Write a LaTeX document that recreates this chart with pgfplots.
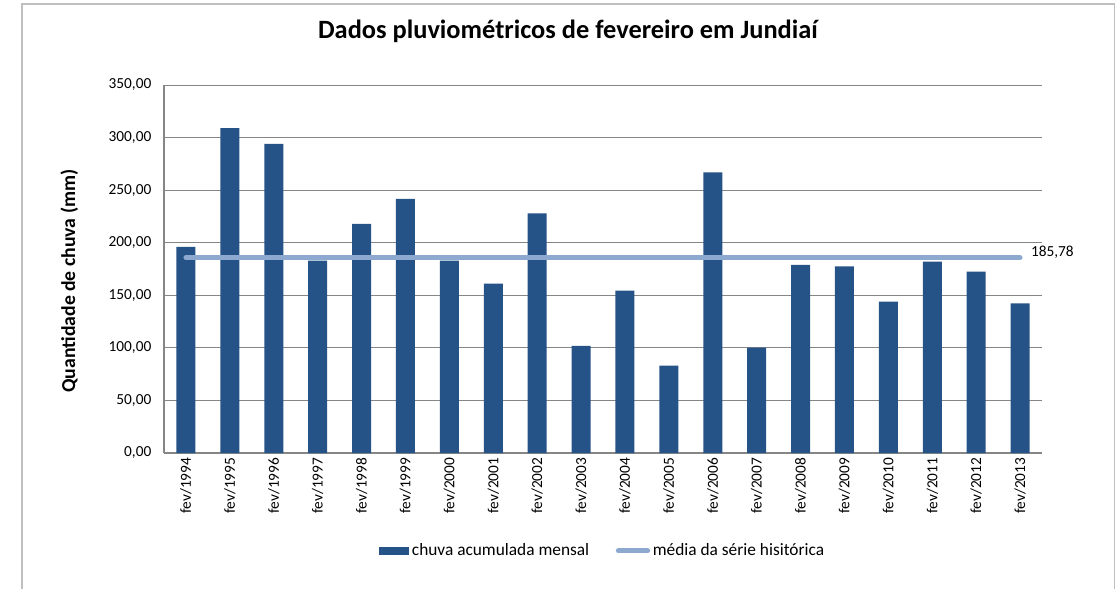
\documentclass[border=0pt]{standalone}
\usepackage{pgfplots}
\pgfplotsset{compat=1.18}
\usepackage{fontspec}
\setmainfont{Carlito}
\definecolor{barblue}{RGB}{38,83,135}
\definecolor{meanblue}{RGB}{142,169,208}
\definecolor{gridgray}{RGB}{134,134,134}
\begin{document}
\begin{tikzpicture}[x=0.75pt,y=0.75pt]
\path[use as bounding box] (0,0) rectangle (1116,589);
\draw[gray!50, line width=0.9pt] (22,0) -- (22,585) -- (1114.5,585) -- (1114.5,0);
\node[font=\bfseries\fontsize{19.8}{24}\selectfont] at (568,558) {Dados pluviométricos de fevereiro em Jundiaí};
\begin{axis}[
  at={(123pt,102pt)}, anchor=south west,
  scale only axis, width=658.5pt, height=276pt,
  xmin=-0.5, xmax=19.5, ymin=0, ymax=350,
  ytick distance=50,
  ymajorgrids, grid style={gridgray, line width=0.6pt},
  axis x line*=bottom, axis y line*=left,
  axis line style={gridgray, line width=0.8pt},
  major tick length=0pt,
  xtick={0,...,19},
  xticklabels={fev/1994,fev/1995,fev/1996,fev/1997,fev/1998,fev/1999,fev/2000,fev/2001,fev/2002,fev/2003,fev/2004,fev/2005,fev/2006,fev/2007,fev/2008,fev/2009,fev/2010,fev/2011,fev/2012,fev/2013},
  x tick label style={rotate=90, anchor=east, font=\fontsize{11.5}{13}\selectfont},
  y tick label style={font=\fontsize{11.5}{13}\selectfont, xshift=-6pt},
  /pgf/number format/.cd, use comma, fixed, fixed zerofill, precision=2, 1000 sep={}, assume math mode=true,
  /pgfplots/.cd,
  ylabel={Quantidade de chuva (mm)},
  ylabel style={at={(axis description cs:-0.108,0.467)}, anchor=center, font=\bfseries\fontsize{14.8}{17}\selectfont},
  legend style={at={(0.5,-0.266)}, anchor=center, draw=none, legend columns=2,
    font=\fontsize{13}{15}\selectfont,
    /tikz/every even column/.append style={column sep=18pt}},
  clip=false,
]
\addplot[draw=none, fill=barblue, ybar, bar width=14.25pt,
  legend image code/.code={\fill[barblue] (0pt,-3pt) rectangle (22.5pt,3pt);}]
coordinates {
(0,196) (1,309) (2,294) (3,183) (4,218) (5,241.6) (6,183) (7,161) (8,228) (9,102)
(10,154.5) (11,83) (12,267) (13,100.3) (14,179) (15,177.4) (16,144) (17,182) (18,172.6) (19,142.2)
};
\addlegendentry{chuva acumulada mensal}
\addplot[meanblue, line width=3.75pt, line cap=round, sharp plot,
  legend image code/.code={\draw[meanblue, line width=3.75pt, line cap=round] (0pt,0pt) -- (22pt,0pt);}]
coordinates {(0,185.78) (19,185.78)} node[pos=1, right, black, font=\fontsize{11.5}{13}\selectfont, xshift=3pt, yshift=4pt] {185,78};
\addlegendentry{média da série hisitórica}
\end{axis}
\end{tikzpicture}
\end{document}
